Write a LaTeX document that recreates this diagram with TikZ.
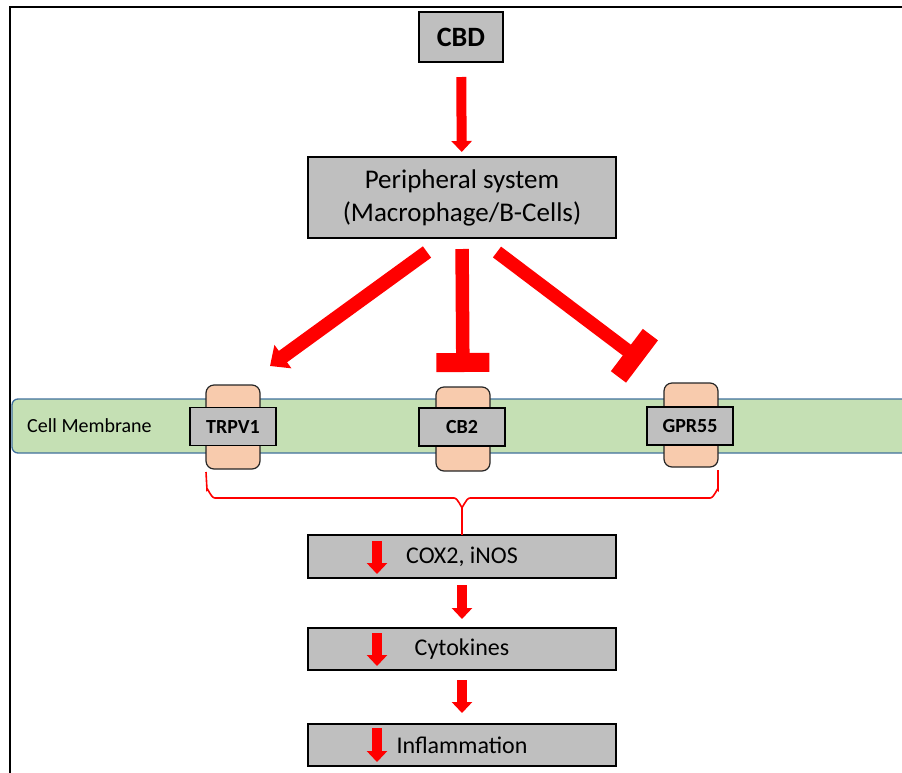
\documentclass[tikz,border=0pt]{standalone}
\usepackage{fontspec}
\setmainfont{Carlito}
\usetikzlibrary{arrows.meta}
\definecolor{boxgray}{HTML}{BFBFBF}
\definecolor{peach}{HTML}{F8CBAD}
\definecolor{memgreen}{HTML}{C5E0B4}
\definecolor{memblue}{HTML}{41719C}
\definecolor{arrred}{HTML}{FF0000}
\begin{document}
\begin{tikzpicture}[x=1pt,y=-1pt,
 graybox/.style={draw=black,line width=1.3pt,fill=boxgray,inner sep=0pt,outer sep=0pt},
 peachbox/.style={draw=black!85,line width=1.2pt,fill=peach,rounded corners=8pt,inner sep=0pt,outer sep=0pt,minimum width=54pt,minimum height=84pt},
 recbox/.style={graybox,minimum width=86pt,minimum height=38pt,font=\fontsize{20}{24}\selectfont\bfseries},
 flowbox/.style={graybox,minimum width=308pt,minimum height=42pt,font=\fontsize{24}{28}\selectfont},
 thinarrow/.style={draw=arrred,line width=10pt,-{Triangle[width=20pt,length=11pt]}},
 bigarrow/.style={draw=arrred,line width=14pt,-{Triangle[width=28pt,length=16pt]}},
 blockarrow/.style={draw=arrred,line width=13.5pt,-{Rectangle[width=53pt,length=19pt]}},
 bracepath/.style={draw=arrred,line width=1.6pt},
]
\useasboundingbox (0,0) rectangle (902,772);
\clip (0,0) rectangle (902,772);
\draw[line width=2.2pt] (10,7) rectangle (960,830);

% top boxes
\node[graybox,minimum width=84pt,minimum height=50pt,font=\fontsize{28}{32}\selectfont\bfseries] (cbd) at (461,37) {CBD};
\node[graybox,minimum width=308pt,minimum height=81pt,align=center,font=\fontsize{27}{33}\selectfont] (periph) at (462,197.5) {Peripheral system\\(Macrophage/B-Cells)};

% membrane
\node[draw=memblue,line width=1.3pt,fill=memgreen,rounded corners=6pt,minimum width=903pt,minimum height=54pt,inner sep=0pt] (mem) at (463.5,426) {};
\node[anchor=west,inner sep=0pt,font=\fontsize{20}{24}\selectfont] (memlabel) at (27,426) {Cell Membrane};

% receptors
\node[peachbox] (trpv1p) at (233,427) {};
\node[recbox] (trpv1) at (233,426.5) {TRPV1};
\node[peachbox] (cb2p) at (463,429) {};
\node[recbox] (cb2) at (462,427) {CB2};
\node[peachbox] (gpr55p) at (691,425) {};
\node[recbox] (gpr55) at (690,426) {GPR55};

% flow boxes
\node[flowbox,minimum height=43pt] (cox) at (462,556.5) {COX2, iNOS};
\node[flowbox] (cyt) at (462,649) {Cytokines};
\node[flowbox] (infl) at (462,745) {Inflammation};

% connectors
\draw[thinarrow,shorten <=15pt,shorten >=5pt] (cbd) -- (periph);
\draw[bigarrow] ([xshift=-35pt,yshift=-14pt]periph.south) -- ([xshift=37pt,yshift=19pt]trpv1p.north);
\draw[blockarrow,shorten <=11pt,shorten >=15pt] (periph.south) -- (cb2p.north);
\draw[blockarrow] ([xshift=35pt,yshift=-14pt]periph.south) -- ([xshift=-49pt,yshift=21.5pt]gpr55p.north);

% brace
\coordinate (bl) at ([yshift=-3pt]trpv1p.south west);
\coordinate (br) at ([yshift=-3pt]gpr55p.south east);
\coordinate (bm) at (462,506);
\draw[bracepath] (bl) -- (207,490) to[out=90,in=180] (215,498) -- (454,498) to[out=0,in=-90] (bm);
\draw[bracepath] (br) -- (718,490) to[out=90,in=0] (710,498) -- (470,498) to[out=180,in=-90] (bm);
\draw[bracepath] (bm) -- (cox.north);

\draw[thinarrow,shorten <=7pt,shorten >=9pt] (cox) -- (cyt);
\draw[thinarrow,shorten <=10pt,shorten >=11pt] (cyt) -- (infl);

% decrease markers inside boxes
\foreach \b/\t/\d in {cox/15.5/17.5, cyt/16/17, infl/17/17}{
  \draw[thinarrow] ([xshift=-85pt,yshift=\t pt]\b.center) -- ([xshift=-85pt,yshift=-\d pt]\b.center);
}
\end{tikzpicture}
\end{document}
